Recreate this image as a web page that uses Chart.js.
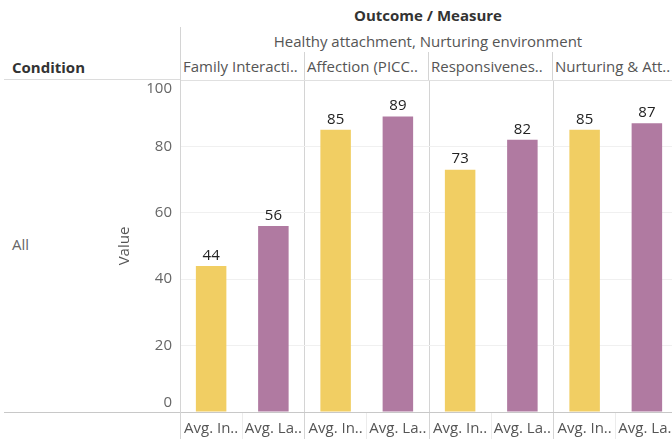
<!DOCTYPE html>
<html>
<head>
<meta charset="utf-8">
<script src="https://cdn.jsdelivr.net/npm/chart.js@4/dist/chart.umd.min.js"></script>
<style>
  body { margin: 0; width: 672px; height: 439px; overflow: hidden; position: relative; background: #fff;
         font-family: "Open Sans", sans-serif; }
  .t { position: absolute; white-space: nowrap; }
  .line { position: absolute; background: #d4d4d4; }
  #chart { position: absolute; left: 0; top: 0; }
</style>
</head>
<body>
<div class="t" style="left:180px;width:496px;top:5px;text-align:center;font-weight:bold;font-size:15px;color:#333">Outcome / Measure</div>
<div class="t" style="left:180px;width:496px;top:31px;text-align:center;font-size:15px;color:#555">Healthy attachment, Nurturing environment</div>
<div class="t" style="left:12px;top:57px;font-weight:bold;font-size:15px;color:#333">Condition</div>
<div class="t" style="left:12px;top:234px;font-size:15px;color:#666">All</div>
<div id="headers"></div>
<div class="line" style="left:180px;top:27px;width:1px;height:53px"></div>
<div class="line" style="left:4px;top:79px;width:176px;height:1px;background:#dcdcdc"></div>
<div class="line" style="left:4px;top:412px;width:176px;height:1px;background:#c8c8c8"></div>
<canvas id="chart" width="678" height="439"></canvas>
<script>
const measures = ['Family Interacti..', 'Affection (PICC..', 'Responsivenes..', 'Nurturing & Att..'];
const seriesNames = ['Avg. In..', 'Avg. La..'];
const initialValues = [44, 85, 73, 85];
const lastValues = [56, 89, 82, 87];
const yTicks = [0, 20, 40, 60, 80, 100];

const yellow = '#F1CE63';
const purple = '#B07AA1';

// panel headers (one per measure)
const headers = document.getElementById('headers');
measures.forEach((m, i) => {
  const d = document.createElement('div');
  d.className = 't';
  d.style.cssText = 'left:' + (180 + 124 * i) + 'px;top:52px;width:123px;height:28px;border-left:1px solid #d4d4d4;' +
    'font-size:15px;color:#555;padding-left:2px;overflow:hidden;line-height:28px';
  d.textContent = m;
  headers.appendChild(d);
});

// interleave the two measures per outcome
const labels = [];
const values = [];
const colors = [];
measures.forEach((m, i) => {
  labels.push(seriesNames[0]); values.push(initialValues[i]); colors.push(yellow);
  labels.push(seriesNames[1]); values.push(lastValues[i]); colors.push(purple);
});

const valueLabels = {
  id: 'valueLabels',
  afterDatasetsDraw(chart) {
    const ctx = chart.ctx;
    ctx.save();
    ctx.font = '15px "Open Sans"';
    ctx.fillStyle = '#222';
    ctx.textAlign = 'center';
    ctx.textBaseline = 'bottom';
    chart.getDatasetMeta(0).data.forEach((bar, i) => {
      ctx.fillText(values[i], bar.x, bar.y - 3);
    });
    ctx.restore();
  }
};

Chart.defaults.font.family = '"Open Sans", sans-serif';

new Chart(document.getElementById('chart'), {
  type: 'bar',
  data: {
    labels: labels,
    datasets: [{
      data: values,
      backgroundColor: colors,
      categoryPercentage: 1,
      barPercentage: 0.49
    }]
  },
  options: {
    responsive: false,
    animation: false,
    devicePixelRatio: 1,
    layout: { padding: { top: 80, left: 0, right: 0, bottom: 0 } },
    plugins: { legend: { display: false }, tooltip: { enabled: false } },
    scales: {
      x: {
        offset: true,
        afterFit: s => { s.height = 27; },
        grid: {
          offset: true,
          color: c => (c.index % 2 === 0 ? '#d4d4d4' : 'rgba(0,0,0,0)'),
          tickColor: c => (c.index % 2 === 0 ? '#d4d4d4' : '#ececec'),
          tickLength: 27
        },
        border: { color: '#c8c8c8' },
        ticks: { color: '#555', font: { size: 15 }, padding: -19, maxRotation: 0, autoSkip: false }
      },
      y: {
        min: 0,
        max: 100,
        afterFit: s => { s.width = 180; },
        afterBuildTicks: s => { s.ticks = yTicks.map(v => ({ value: v })); },
        grid: {
          drawTicks: false,
          color: c => (c.tick.value === 100 ? '#e0e0e0' : '#f0f0f0')
        },
        border: { color: '#d4d4d4' },
        ticks: {
          color: '#666',
          font: { size: 15 },
          padding: 8,
          // keep the edge labels inside the pane
          callback: v => (v === 100 ? ['', '100'] : v === 0 ? ['0', ''] : String(v))
        },
        title: { display: true, text: 'Value', color: '#555', font: { size: 15 }, padding: { top: 116, bottom: 0 } }
      }
    }
  },
  plugins: [valueLabels]
});
</script>
</body>
</html>
